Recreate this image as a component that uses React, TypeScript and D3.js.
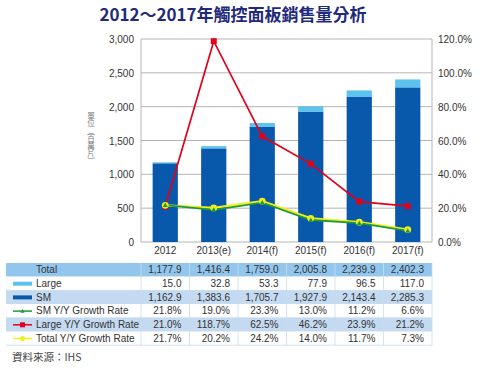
import React from 'react';
import * as d3 from 'd3';

const years = ['2012', '2013(e)', '2014(f)', '2015(f)', '2016(f)', '2017(f)'];
const total = [1177.9, 1416.4, 1759.0, 2005.8, 2239.9, 2402.3];
const large = [15.0, 32.8, 53.3, 77.9, 96.5, 117.0];
const sm = [1162.9, 1383.6, 1705.7, 1927.9, 2143.4, 2285.3];
const smGrowth = [21.8, 19.0, 23.3, 13.0, 11.2, 6.6];
const largeGrowth = [21.0, 118.7, 62.5, 46.2, 23.9, 21.2];
const totalGrowth = [21.7, 20.2, 24.2, 14.0, 11.7, 7.3];
const leftTicks = [0, 500, 1000, 1500, 2000, 2500, 3000];
const rightTicks = [0, 20, 40, 60, 80, 100, 120];
const unitLabel = '單位（百萬片）';

const C_SM = '#0858ab';
const C_LARGE = '#5cc3ef';
const C_RED = '#e2001a';
const C_GREEN = '#1d9a3c';
const C_YELLOW = '#f2ee1a';

const font = 'Arial, "Liberation Sans", sans-serif';
const cjk = '"Noto Sans CJK TC", Arial, sans-serif';

export default function App() {
  const W = 482, H = 369;
  const m = { left: 141, right: 432, top: 39, bottom: 242 };

  const x = d3.scaleBand().domain(years).range([m.left, m.right]).paddingInner(0.48).paddingOuter(0.24);
  const yL = d3.scaleLinear().domain([0, 3000]).range([m.bottom, m.top]);
  const yR = d3.scaleLinear().domain([0, 120]).range([m.bottom, m.top]);
  const band = (m.right - m.left) / years.length;
  const cx = (i: number) => x(years[i])! + x.bandwidth() / 2;

  const line = (vals: number[]) =>
    d3.line<number>().x((_, i) => cx(i)).y(d => yR(d))(vals) || '';

  const fmtN = d3.format(',.1f');
  const fmtP = (v: number) => v.toFixed(1) + '%';

  const rows = [
    { label: 'Total', vals: total.map(fmtN), bg: '#93c6ec', sym: 'none' },
    { label: 'Large', vals: large.map(fmtN), bg: '#ffffff', sym: 'large' },
    { label: 'SM', vals: sm.map(fmtN), bg: '#c3daf1', sym: 'sm' },
    { label: 'SM Y/Y Growth Rate', vals: smGrowth.map(fmtP), bg: '#ffffff', sym: 'green' },
    { label: 'Large Y/Y Growth Rate', vals: largeGrowth.map(fmtP), bg: '#c3daf1', sym: 'red' },
    { label: 'Total Y/Y Growth Rate', vals: totalGrowth.map(fmtP), bg: '#ffffff', sym: 'yellow' },
  ];
  const tTop = 263, rowH = 13.7, tLeft = 6;

  const tri = (px: number, py: number, s = 3) => `M${px},${py - s}L${px + s},${py + s * 0.8}L${px - s},${py + s * 0.8}Z`;

  return (
    <svg width={W} height={H} style={{ position: 'absolute', left: 0, top: 0, fontFamily: font }}>
      <rect width={W} height={H} fill="#fff" />
      <text x={233} y={21} textAnchor="middle" fontSize={17} fontWeight="bold" fill="#1f2a7c"
        fontFamily={cjk}>2012～2017年觸控面板銷售量分析</text>

      {/* grid */}
      {leftTicks.map(t => (
        <line key={t} x1={m.left} x2={m.right} y1={yL(t)} y2={yL(t)} stroke="#b5b5b5" strokeWidth={1} />
      ))}
      <line x1={m.left} x2={m.left} y1={m.top} y2={m.bottom} stroke="#b5b5b5" />
      <line x1={m.right} x2={m.right} y1={m.top} y2={m.bottom} stroke="#b5b5b5" />

      {leftTicks.map(t => (
        <text key={t} x={134} y={yL(t) + 4} textAnchor="end" fontSize={10} fill="#333">{d3.format(',')(t)}</text>
      ))}
      {rightTicks.map(t => (
        <text key={t} x={438} y={yR(t) + 4} textAnchor="start" fontSize={10} fill="#333">{t.toFixed(1)}%</text>
      ))}
      <text x={91} y={112} fontSize={7.5} fill="#777" fontFamily={cjk}
        style={{ writingMode: 'vertical-rl', textOrientation: 'upright' } as React.CSSProperties}>{unitLabel}</text>

      {/* bars */}
      {years.map((yr, i) => (
        <g key={yr}>
          <rect x={x(yr)} width={x.bandwidth()} y={yL(sm[i])} height={yL(0) - yL(sm[i])} fill={C_SM} />
          <rect x={x(yr)} width={x.bandwidth()} y={yL(sm[i] + large[i])} height={yL(sm[i]) - yL(sm[i] + large[i])} fill={C_LARGE} />
          <text x={cx(i)} y={254} textAnchor="middle" fontSize={10} fill="#333">{yr}</text>
        </g>
      ))}

      {/* lines */}
      <path d={line(largeGrowth)} fill="none" stroke={C_RED} strokeWidth={1.7} />
      {largeGrowth.map((v, i) => <rect key={i} x={cx(i) - 3} y={yR(v) - 3} width={6} height={6} fill={C_RED} />)}
      <path d={line(totalGrowth)} fill="none" stroke={C_YELLOW} strokeWidth={2.2} />
      <path d={line(smGrowth)} fill="none" stroke={C_GREEN} strokeWidth={1.8} />
      {totalGrowth.map((v, i) => <circle key={i} cx={cx(i)} cy={yR(v)} r={3.4} fill={C_YELLOW} />)}
      {smGrowth.map((v, i) => <path key={i} d={tri(cx(i), yR(v), 2.5)} fill={C_GREEN} />)}

      {/* table */}
      {rows.map((r, ri) => {
        const ty = tTop + ri * rowH;
        return (
          <g key={r.label}>
            <rect x={tLeft} y={ty} width={m.right - tLeft} height={rowH} fill={r.bg} />
            <line x1={tLeft} x2={m.right} y1={ty + rowH} y2={ty + rowH} stroke="#c8dcef" strokeWidth={0.8} />
            {r.sym === 'large' && <rect x={13} y={ty + 5} width={19} height={4} fill={C_LARGE} />}
            {r.sym === 'sm' && <rect x={13} y={ty + 5} width={19} height={4} fill={C_SM} />}
            {r.sym === 'green' && <g><line x1={13} x2={32} y1={ty + 7} y2={ty + 7} stroke={C_GREEN} strokeWidth={1.5} /><path d={tri(22.5, ty + 7, 2.2)} fill={C_GREEN} /></g>}
            {r.sym === 'red' && <g><line x1={13} x2={32} y1={ty + 7} y2={ty + 7} stroke={C_RED} strokeWidth={1.5} /><rect x={20} y={ty + 4.5} width={5} height={5} fill={C_RED} /></g>}
            {r.sym === 'yellow' && <g><line x1={13} x2={32} y1={ty + 7} y2={ty + 7} stroke={C_YELLOW} strokeWidth={1.5} /><circle cx={22.5} cy={ty + 7} r={2.5} fill={C_YELLOW} /></g>}
            <text x={36} y={ty + 10.3} fontSize={10} fill="#333">{r.label}</text>
            {r.vals.map((v, i) => (
              <text key={i} x={m.left + band * (i + 1) - 8} y={ty + 10.3} textAnchor="end" fontSize={10} fill="#333">{v}</text>
            ))}
          </g>
        );
      })}
      {d3.range(years.length).map(i => (
        <line key={i} x1={m.left + band * i} x2={m.left + band * i} y1={tTop} y2={tTop + rowH * rows.length} stroke="#c8dcef" strokeWidth={0.8} />
      ))}
      <line x1={m.right} x2={m.right} y1={tTop} y2={tTop + rowH * rows.length} stroke="#c8dcef" strokeWidth={0.8} />
      <text x={12} y={361} fontSize={10.5} fill="#444" fontFamily={cjk}>資料來源：IHS</text>
    </svg>
  );
}
